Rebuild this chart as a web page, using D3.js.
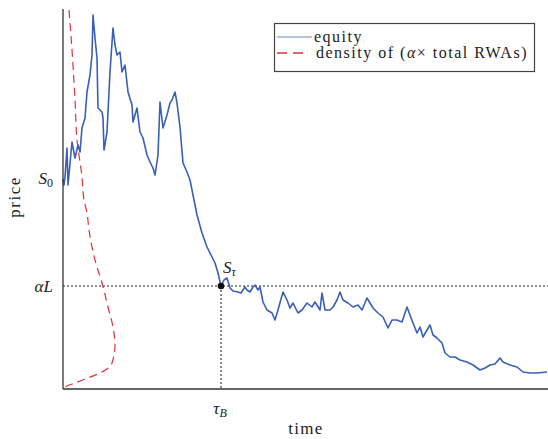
<!DOCTYPE html>
<html>
<head>
<meta charset="utf-8">
<script src="https://cdn.jsdelivr.net/npm/d3@7"></script>
<style>
  html, body { margin: 0; padding: 0; background: #fff; }
  svg { display: block; }
  svg text { font-family: "Liberation Serif", "DejaVu Serif", serif; fill: #222; }
</style>
</head>
<body>
<svg id="chart" width="548" height="439"></svg>
<script>
// ---- data ----
// equity path: time (days) and price
const equityTime = [0,1,2,4,5,9,12,15,17,19,22,24,27,29,30,32,34,35,39,40,41,44,47,50,52,54,57,59,62,65,69,70,74,77,80,84,87,90,92,95,97,100,104,107,109,112,114,117,120,124,127,130,134,139,144,149,152,155,158,161,164,167,170,175,178,182,184,187,190,192,195,197,200,204,209,212,215,220,224,227,230,235,239,244,249,252,257,259,262,267,270,274,277,280,285,290,295,299,304,307,310,315,320,325,329,334,339,344,347,350,354,357,360,364,367,370,374,379,382,387,392,397,404,410,417,422,427,432,437,440,447,454,460,467,474,484];
const equityPrice = [105,102,106,120.5,102,123.5,115.5,122,118.5,130.5,135.5,148.5,157,167,187,175.5,165.5,140.5,138.5,135.5,119.5,128.5,158.5,180.5,172,167,168.5,158.5,162,148.5,142,133.5,140.5,128.5,125.5,117,113.5,110.5,107,117,143.5,130.5,137,143,144.5,148.5,143,131,113,108.5,104.5,97,87,78,71,66,63,58,51.5,54.5,55.5,50.5,49,48.5,48,51,49.5,48.5,51,52,49.5,51,43.5,39.5,38,34.5,39.5,48.5,44.5,40.5,43,38,39.5,43,41,43.5,39.5,48,39.5,39.5,41,44.5,48.5,44.5,43,41,42,39.5,45.5,43,40.5,38,36,30.5,34.5,34.5,33.5,41,37,33,28,31,26,29.5,32,27,25.5,23,18,16,16,14.5,13.5,12,9.5,10.5,12,12.5,15.5,13.5,12,11,8.5,8,8,8.5];

// density of (alpha x total RWAs): price level and density
const densityPrice = [189.5,169.5,144.5,124.5,106,94.5,88,79.5,64.5,53,41,31,22,13,8.5,5.5,3,1,0];
const densityValue = [0.06,0.09,0.12,0.14,0.19,0.21,0.24,0.26,0.32,0.39,0.45,0.50,0.52,0.49,0.39,0.25,0.12,0.02,0];

// tick labels / markers
const S0 = 105;
const alphaL = 51.5;
const tauB = 158;
const yTickValues = [S0, alphaL];
const xTickValues = [tauB];

const legendLabels = ["equity", "density of (α× total RWAs)"];

// ---- chart ----
const FONT = "'Liberation Serif', 'DejaVu Serif', serif";
const svg = d3.select("#chart");
const x = d3.scaleLinear().domain([0, 485]).range([63, 548]);
const y = d3.scaleLinear().domain([0, 190]).range([389, 9]);
const dens = d3.scaleLinear().domain([0, 1]).range([63, 163]);

const equity = equityTime.map((t, i) => ({t, p: equityPrice[i]}));
const density = densityPrice.map((p, i) => ({p, d: densityValue[i]}));

// reference dotted lines
svg.append("line")
  .attr("x1", x(0)).attr("x2", x(485))
  .attr("y1", y(alphaL)).attr("y2", y(alphaL))
  .attr("stroke", "#222").attr("stroke-width", 1.1)
  .attr("stroke-dasharray", "2,2");
svg.append("line")
  .attr("x1", x(tauB)).attr("x2", x(tauB))
  .attr("y1", y(alphaL)).attr("y2", y(0))
  .attr("stroke", "#222").attr("stroke-width", 1.1)
  .attr("stroke-dasharray", "2,2");

// density
svg.append("path")
  .datum(density)
  .attr("fill", "none")
  .attr("stroke", "#e0313a")
  .attr("stroke-width", 1.2)
  .attr("stroke-dasharray", "8,5")
  .attr("d", d3.line().x(d => dens(d.d)).y(d => y(d.p)).curve(d3.curveMonotoneY));

// equity
svg.append("path")
  .datum(equity)
  .attr("fill", "none")
  .attr("stroke", "#3a5fb4")
  .attr("stroke-width", 1.6)
  .attr("stroke-linejoin", "round")
  .attr("d", d3.line().x(d => x(d.t)).y(d => y(d.p)));

// axes
const yAxis = svg.append("g").attr("transform", `translate(${x(0)},0)`)
  .call(d3.axisLeft(y).tickValues(yTickValues).tickSize(0).tickFormat(""));
const xAxis = svg.append("g").attr("transform", `translate(0,${y(0)})`)
  .call(d3.axisBottom(x).tickValues(xTickValues).tickSize(0).tickFormat(""));
[yAxis, xAxis].forEach(a => {
  a.select(".domain").attr("stroke", "#333").attr("stroke-width", 1.3);
});
yAxis.select(".domain").attr("d", `M0,${y(0)}V${y(190)}`);
xAxis.select(".domain").attr("d", `M${x(0)},0H${x(485)}`);

function txt(sel) { return sel.attr("font-family", FONT).style("font-family", FONT); }

// y tick labels
const s0Label = txt(svg.append("text"))
  .attr("x", x(0) - 10).attr("y", y(S0) + 5)
  .attr("text-anchor", "end").style("font-size", "17px");
s0Label.append("tspan").text("S").style("font-style", "italic");
s0Label.append("tspan").text("0").attr("dy", 3).style("font-size", "12px");

txt(svg.append("text"))
  .attr("x", x(0) - 10).attr("y", y(alphaL) + 6)
  .attr("text-anchor", "end").style("font-size", "17px")
  .style("font-style", "italic").text("αL");

// x tick label
const tauLabel = txt(svg.append("text"))
  .attr("x", x(tauB) - 1).attr("y", y(0) + 25)
  .attr("text-anchor", "middle").style("font-size", "17px");
tauLabel.append("tspan").text("τ").style("font-style", "italic");
tauLabel.append("tspan").text("B").attr("dy", 3).style("font-size", "12px").style("font-style", "italic");

// stopping point
svg.append("circle")
  .attr("cx", x(tauB)).attr("cy", y(alphaL)).attr("r", 3.3)
  .attr("fill", "#111");
const stLabel = txt(svg.append("text"))
  .attr("x", x(tauB) + 2).attr("y", y(alphaL) - 13)
  .style("font-size", "17px");
stLabel.append("tspan").text("S").style("font-style", "italic");
stLabel.append("tspan").text("τ").attr("dy", 3).style("font-size", "12px").style("font-style", "italic");

// axis titles
txt(svg.append("text"))
  .attr("transform", `translate(20,${(y(0) + y(190)) / 2 - 2}) rotate(-90)`)
  .attr("text-anchor", "middle").style("font-size", "17px")
  .style("letter-spacing", "1.5px").text("price");
txt(svg.append("text"))
  .attr("x", 306).attr("y", 434)
  .attr("text-anchor", "middle").style("font-size", "17px")
  .style("letter-spacing", "1.3px").text("time");

// legend
const lg = svg.append("g");
lg.append("rect").attr("x", 274.5).attr("y", 23.5).attr("width", 260).attr("height", 48)
  .attr("fill", "#fff").attr("stroke", "#444").attr("stroke-width", 1.2);
lg.append("line").attr("x1", 277).attr("x2", 312).attr("y1", 37).attr("y2", 37)
  .attr("stroke", "#6d87b8").attr("stroke-width", 1.2);
lg.append("line").attr("x1", 277).attr("x2", 307).attr("y1", 53).attr("y2", 53)
  .attr("stroke", "#e0313a").attr("stroke-width", 1.3).attr("stroke-dasharray", "10,6");
lg.selectAll("text.lab").data(legendLabels).join("text")
  .attr("class", "lab")
  .attr("font-family", FONT).style("font-family", FONT)
  .attr("x", (d, i) => i === 0 ? 314 : 316)
  .attr("y", (d, i) => 42 + i * 16)
  .style("font-size", "16px")
  .style("letter-spacing", "1.5px")
  .each(function(d, i) {
    const t = d3.select(this);
    if (i === 0) { t.text(d); return; }
    t.append("tspan").text("density of (");
    t.append("tspan").text("α").style("font-style", "italic");
    t.append("tspan").text("× total RWAs)");
  });
</script>
</body>
</html>
